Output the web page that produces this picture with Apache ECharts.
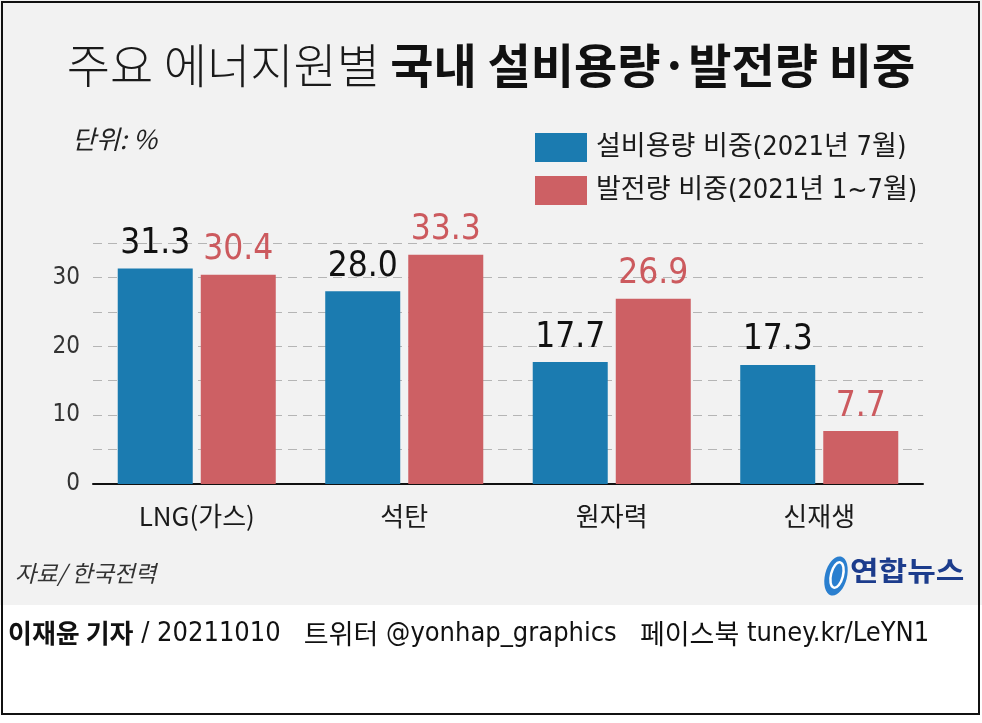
<!DOCTYPE html>
<html>
<head>
<meta charset="utf-8">
<script src="https://cdn.jsdelivr.net/npm/echarts@6/dist/echarts.min.js"></script>
<style>
html,body{margin:0;padding:0;background:#fff;}
#c{width:982px;height:723px;}
</style>
</head>
<body>
<div id="c"></div>
<script>
const categories = ['LNG(가스)', '석탄', '원자력', '신재생'];
const capacityShare = [31.3, 28.0, 17.7, 17.3];
const generationShare = [30.4, 33.3, 26.9, 7.7];
const seriesNames = ['설비용량 비중(2021년 7월)', '발전량 비중(2021년 1~7월)'];
const yTicks = [0, 10, 20, 30];

const NUM = "'Liberation Sans Narrow','DejaVu Sans Condensed','Noto Sans CJK KR',sans-serif";
const KR = "'Noto Sans CJK KR',sans-serif";
const BLUE = '#1b7bb0';
const RED = '#cd6064';

const chart = echarts.init(document.getElementById('c'), null, {renderer: 'canvas'});
chart.setOption({
  backgroundColor: '#ffffff',
  animation: false,
  title: {
    left: 'center',
    top: 37,
    text: '{a|주요 에너지원별 }{b|국내 설비용량·발전량 비중}',
    textStyle: {
      rich: {
        a: {fontFamily: KR, fontSize: 47, fontWeight: 300, color: '#1a1a1a'},
        b: {fontFamily: KR, fontSize: 47, fontWeight: 'bold', color: '#111'}
      }
    }
  },
  legend: {
    orient: 'vertical',
    left: 530,
    top: 128,
    itemWidth: 52,
    itemHeight: 29,
    itemGap: 14,
    icon: 'rect',
    selectedMode: false,
    textStyle: {fontFamily: NUM, fontSize: 27, color: '#1a1a1a', padding: [0, 0, 0, 4]},
    data: seriesNames
  },
  grid: {left: 93, right: 59, top: 243, bottom: 239, containLabel: false},
  xAxis: {
    type: 'category',
    data: categories,
    axisLine: {lineStyle: {color: '#111', width: 2}},
    axisTick: {show: false},
    axisLabel: {fontFamily: KR, fontSize: 26, color: '#1a1a1a', margin: 19}
  },
  yAxis: {
    type: 'value',
    min: 0,
    max: 35,
    interval: 5,
    axisLine: {show: false},
    axisTick: {show: false},
    axisLabel: {
      fontFamily: NUM, fontSize: 24, color: '#333', margin: 13,
      formatter: v => (yTicks.indexOf(v) >= 0 ? String(v) : '')
    },
    splitLine: {lineStyle: {color: '#b5b5b5', type: [9, 6], width: 1.2}}
  },
  series: [
    {
      name: seriesNames[0],
      type: 'bar',
      data: capacityShare,
      barWidth: 75,
      barGap: '10.7%',
      itemStyle: {color: BLUE},
      label: {
        show: true, position: 'top', distance: 7,
        fontFamily: NUM, fontSize: 35, color: '#111',
        formatter: p => p.value.toFixed(1)
      }
    },
    {
      name: seriesNames[1],
      type: 'bar',
      data: generationShare,
      barWidth: 75,
      itemStyle: {color: RED},
      label: {
        show: true, position: 'top', distance: 7,
        fontFamily: NUM, fontSize: 35, color: '#cc5a5e',
        formatter: p => p.value.toFixed(1)
      }
    }
  ],
  graphic: [
    {type: 'rect', z: -10, silent: true, shape: {x: 0, y: 0, width: 982, height: 605}, style: {fill: '#f2f2f2'}},
    {type: 'rect', z: 100, silent: true, shape: {x: 2, y: 2, width: 977, height: 712}, style: {fill: 'none', stroke: '#111', lineWidth: 2}},
    {type: 'text', left: 72, top: 126, style: {text: '단위: %', font: "italic 26px 'Noto Sans CJK KR', sans-serif", fill: '#222'}},
    {type: 'text', left: 15, top: 562, style: {text: '자료/ 한국전력', font: "italic 23px 'Noto Sans CJK KR', sans-serif", fill: '#333'}},
    {type: 'ellipse', silent: true, shape: {cx: 836, cy: 576, rx: 11, ry: 20}, rotation: -0.25, originX: 836, originY: 576, style: {fill: '#2a7fcf'}},
    {type: 'ellipse', silent: true, shape: {cx: 837, cy: 575, rx: 6, ry: 13}, rotation: -0.25, originX: 837, originY: 575, style: {fill: 'none', stroke: '#ffffff', lineWidth: 2.5}},
    {type: 'text', x: 850, y: 557, scaleX: 1.15, style: {text: '연합뉴스', font: "bold 27px 'Noto Sans CJK KR', sans-serif", fill: '#1c3c8c'}},
    {
      type: 'text', left: 8, top: 620,
      style: {
        text: '{b|이재윤 기자}{n| / 20211010   }{k|트위터}{n| @yonhap_graphics   }{k|페이스북}{n| tuney.kr/LeYN1}',
        rich: {
          b: {fontFamily: KR, fontSize: 26, fontWeight: 'bold', fill: '#111'},
          k: {fontFamily: KR, fontSize: 27, fill: '#111'},
          n: {fontFamily: NUM, fontSize: 27, fill: '#111'}
        }
      }
    }
  ]
});
</script>
</body>
</html>
